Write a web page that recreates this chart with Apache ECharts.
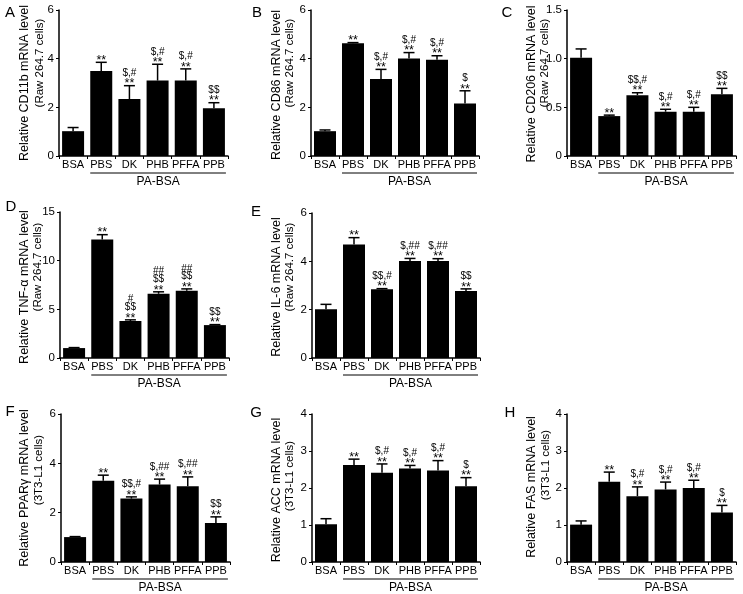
<!DOCTYPE html>
<html>
<head>
<meta charset="utf-8">
<script src="https://cdn.jsdelivr.net/npm/echarts@6/dist/echarts.min.js"></script>
<style>
html,body{margin:0;padding:0;background:#fff;}
#chart{width:743px;height:594px;}
</style>
</head>
<body>
<div id="chart"></div>
<script>
// ---------- DATA ----------
const categories = ['BSA', 'PBS', 'DK', 'PHB', 'PFFA', 'PPB'];
const groupLabel = 'PA-BSA';

const cd11bMean = [1.02, 3.49, 2.34, 3.10, 3.10, 1.96];
const cd11bErr  = [0.15, 0.36, 0.55, 0.67, 0.48, 0.23];
const cd11bSig  = [[], ['**'], ['$,#', '**'], ['$,#', '**'], ['$,#', '**'], ['$$', '**']];

const cd86Mean = [1.02, 4.63, 3.16, 4.01, 3.96, 2.16];
const cd86Err  = [0.05, 0.03, 0.40, 0.24, 0.16, 0.52];
const cd86Sig  = [[], ['**'], ['$,#', '**'], ['$,#', '**'], ['$,#', '**'], ['$', '**']];

const cd206Mean = [1.01, 0.41, 0.625, 0.455, 0.455, 0.635];
const cd206Err  = [0.09, 0.01, 0.025, 0.025, 0.045, 0.06];
const cd206Sig  = [[], ['**'], ['$$,#', '**'], ['$,#', '**'], ['$,#', '**'], ['$$', '**']];

const tnfMean = [1.02, 12.17, 3.80, 6.60, 6.90, 3.38];
const tnfErr  = [0.05, 0.50, 0.12, 0.20, 0.20, 0.05];
const tnfSig  = [[], ['**'], ['#', '$$', '**'], ['##', '$$', '**'], ['##', '$$', '**'], ['$$', '**']];

const il6Mean = [2.02, 4.70, 2.84, 4.01, 4.01, 2.77];
const il6Err  = [0.20, 0.28, 0.03, 0.11, 0.10, 0.09];
const il6Sig  = [[], ['**'], ['$$,#', '**'], ['$,##', '**'], ['$,##', '**'], ['$$', '**']];

const pparMean = [1.01, 3.29, 2.57, 3.14, 3.07, 1.58];
const pparErr  = [0.02, 0.23, 0.07, 0.22, 0.38, 0.25];
const pparSig  = [[], ['**'], ['$$,#', '**'], ['$,##', '**'], ['$,##', '**'], ['$$', '**']];

const accMean = [1.02, 2.62, 2.41, 2.53, 2.47, 2.05];
const accErr  = [0.15, 0.16, 0.24, 0.08, 0.27, 0.23];
const accSig  = [[], ['**'], ['$,#', '**'], ['$,#', '**'], ['$,#', '**'], ['$', '**']];

const fasMean = [1.01, 2.17, 1.78, 1.96, 2.00, 1.34];
const fasErr  = [0.10, 0.26, 0.25, 0.20, 0.21, 0.19];
const fasSig  = [[], ['**'], ['$,#', '**'], ['$,#', '**'], ['$,#', '**'], ['$', '**']];

const panels = [
  {letter: 'A', title: 'Relative CD11b mRNA level', sub: '(Raw 264.7 cells)', mean: cd11bMean, err: cd11bErr, sig: cd11bSig, max: 6, interval: 2},
  {letter: 'B', title: 'Relative CD86 mRNA level', sub: '(Raw 264.7 cells)', mean: cd86Mean, err: cd86Err, sig: cd86Sig, max: 6, interval: 2},
  {letter: 'C', title: 'Relative CD206 mRNA level', sub: '(Raw 264.7 cells)', mean: cd206Mean, err: cd206Err, sig: cd206Sig, max: 1.5, interval: 0.5},
  {letter: 'D', title: 'Relative TNF-\u03b1 mRNA level', sub: '(Raw 264.7 cells)', mean: tnfMean, err: tnfErr, sig: tnfSig, max: 15, interval: 5},
  {letter: 'E', title: 'Relative IL-6 mRNA level', sub: '(Raw 264.7 cells)', mean: il6Mean, err: il6Err, sig: il6Sig, max: 6, interval: 2},
  {letter: 'F', title: 'Relative PPAR\u03b3 mRNA level', sub: '(3T3-L1 cells)', mean: pparMean, err: pparErr, sig: pparSig, max: 6, interval: 2},
  {letter: 'G', title: 'Relative ACC mRNA level', sub: '(3T3-L1 cells)', mean: accMean, err: accErr, sig: accSig, max: 4, interval: 1},
  {letter: 'H', title: 'Relative FAS mRNA level', sub: '(3T3-L1 cells)', mean: fasMean, err: fasErr, sig: fasSig, max: 4, interval: 1}
];

// ---------- LAYOUT ----------
const layout = [
  {left: 59,  top: 10,  width: 169, height: 146, lx: 10,  ly: 13,  tx: 25,  ty: 83,  sx: 40,  sy: 63},
  {left: 311, top: 10,  width: 168, height: 146, lx: 257, ly: 13,  tx: 277, ty: 85,  sx: 290, sy: 63},
  {left: 567, top: 10,  width: 169, height: 146, lx: 507, ly: 13,  tx: 532, ty: 84,  sx: 545, sy: 63},
  {left: 60,  top: 212, width: 169, height: 146, lx: 11,  ly: 207, tx: 25,  ty: 287, sx: 38,  sy: 267},
  {left: 312, top: 213, width: 168, height: 145, lx: 256, ly: 212, tx: 277, ty: 287, sx: 290, sy: 267},
  {left: 61,  top: 414, width: 169, height: 148, lx: 10,  ly: 412, tx: 25,  ty: 488, sx: 39,  sy: 470},
  {left: 312, top: 414, width: 168, height: 148, lx: 256, ly: 413, tx: 277, ty: 490, sx: 290, sy: 476},
  {left: 567, top: 414, width: 169, height: 148, lx: 510, ly: 413, tx: 532, ty: 487, sx: 546, sy: 465}
];

const FONT = "'Liberation Sans', Arial, Helvetica, sans-serif";
const BAR_W = 22;

const chart = echarts.init(document.getElementById('chart'), null, {renderer: 'canvas'});

const grid = [], xAxis = [], yAxis = [], series = [];
panels.forEach((p, i) => {
  const L = layout[i];
  grid.push({left: L.left, top: L.top, width: L.width, height: L.height, containLabel: false});
  xAxis.push({
    gridIndex: i, type: 'category', data: categories,
    axisLine: {show: true, lineStyle: {color: '#000', width: 1.5}},
    axisTick: {show: true, length: 3, lineStyle: {color: '#000', width: 1}},
    axisLabel: {color: '#000', fontSize: 11, fontFamily: FONT, margin: 3, interval: 0},
    splitLine: {show: false}
  });
  yAxis.push({
    gridIndex: i, type: 'value', min: 0, max: p.max, interval: p.interval,
    axisLine: {show: true, lineStyle: {color: '#000', width: 1.5}},
    axisTick: {show: true, length: 3, lineStyle: {color: '#000', width: 1}},
    axisLabel: {color: '#000', fontSize: 11.5, fontFamily: FONT, margin: 5,
      formatter: v => (p.interval < 1 && v !== 0) ? v.toFixed(1) : String(v)},
    splitLine: {show: false}
  });
  series.push({
    type: 'bar', xAxisIndex: i, yAxisIndex: i, data: p.mean, barWidth: BAR_W,
    itemStyle: {color: '#000'}, silent: true, animation: false
  });
  const sig = p.sig;
  series.push({
    type: 'custom', xAxisIndex: i, yAxisIndex: i, silent: true, animation: false,
    data: p.mean.map((m, k) => [k, m, p.err[k]]),
    encode: {x: 0, y: 1},
    renderItem: function (params, api) {
      const idx = api.value(0), m = api.value(1), e = api.value(2);
      const base = api.coord([idx, m]);
      const top = api.coord([idx, m + e]);
      const cap = 5.5;
      const children = [
        {type: 'line', shape: {x1: base[0], y1: base[1], x2: top[0], y2: top[1]}, style: {stroke: '#000', lineWidth: 1.5}},
        {type: 'line', shape: {x1: top[0] - cap, y1: top[1], x2: top[0] + cap, y2: top[1]}, style: {stroke: '#000', lineWidth: 1.5}}
      ];
      const lines = sig[params.dataIndex] || [];
      const n = lines.length;
      lines.forEach((t, j) => {
        const k = n - 1 - j; // 0 = bottom line
        const isStar = t.indexOf('*') >= 0;
        const y = top[1] - 4.5 - k * 7.8 + (isStar ? 2.8 : 0);
        children.push({
          type: 'text', x: top[0], y: y,
          style: {text: t, fill: '#000', fontSize: isStar ? 12.5 : 10, fontFamily: FONT, align: 'center', verticalAlign: 'middle'}
        });
      });
      return {type: 'group', children: children};
    }
  });
});

chart.setOption({
  animation: false,
  backgroundColor: '#fff',
  grid, xAxis, yAxis, series
});

// ---------- GRAPHICS (letters, axis titles, group underline) ----------
const graphic = [];
panels.forEach((p, i) => {
  const L = layout[i];
  graphic.push({type: 'text', x: L.lx, y: L.ly,
    style: {text: p.letter, fill: '#000', fontSize: 15, fontFamily: FONT, align: 'center', verticalAlign: 'middle'}});
  graphic.push({type: 'text', x: L.tx, y: L.ty, rotation: Math.PI / 2,
    style: {text: p.title, fill: '#000', fontSize: 12.5, fontFamily: FONT, align: 'center', verticalAlign: 'middle'}});
  graphic.push({type: 'text', x: L.sx, y: L.sy, rotation: Math.PI / 2,
    style: {text: p.sub, fill: '#000', fontSize: 11.5, fontFamily: FONT, align: 'center', verticalAlign: 'middle'}});
  const x1 = chart.convertToPixel({xAxisIndex: i}, categories[1]) - BAR_W / 2;
  const x2 = chart.convertToPixel({xAxisIndex: i}, categories[categories.length - 1]) + BAR_W / 2 + 1;
  const y0 = chart.convertToPixel({yAxisIndex: i}, 0);
  graphic.push({type: 'line', shape: {x1: x1, y1: y0 + 17, x2: x2, y2: y0 + 17}, style: {stroke: '#000', lineWidth: 1}});
  graphic.push({type: 'text', x: (x1 + x2) / 2, y: y0 + 25.5,
    style: {text: groupLabel, fill: '#000', fontSize: 12, fontFamily: FONT, align: 'center', verticalAlign: 'middle'}});
});
chart.setOption({graphic: graphic});
</script>
</body>
</html>
